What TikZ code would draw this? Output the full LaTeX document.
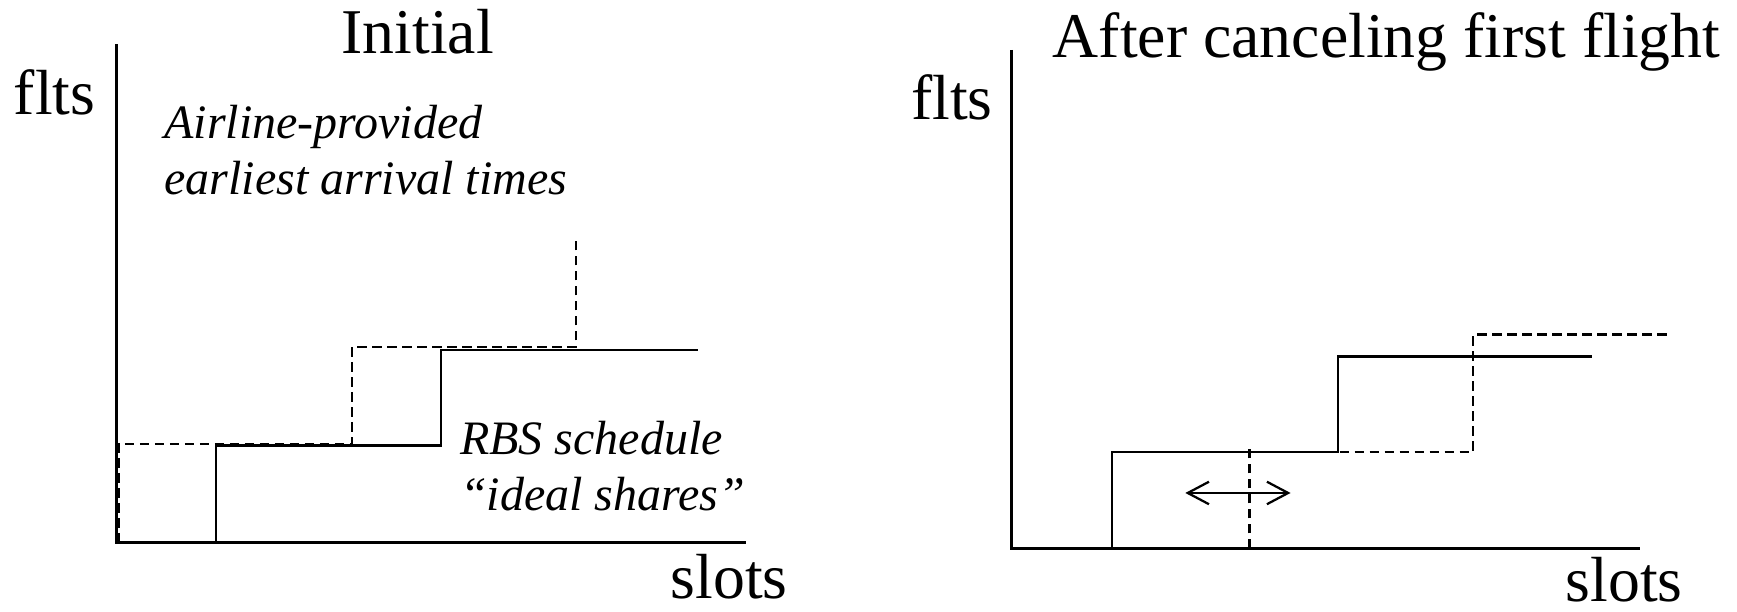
\documentclass[tikz,border=0pt]{standalone}
\usepackage{fontspec}
\setmainfont{Liberation Serif}
\usetikzlibrary{arrows.meta}
\begin{document}
\begin{tikzpicture}[x=0.4431pt,y=-0.4431pt,
  axis/.style={line width=1.1pt},
  rbs/.style={line width=1pt},
  earliest/.style={line width=0.9pt,dash pattern=on 3.8pt off 2.2pt},
  bigtxt/.style={inner sep=0pt,anchor=base west,font=\fontsize{25.5}{30}\selectfont},
  ittxt/.style={inner sep=0pt,anchor=base west,font=\fontsize{19.2}{23}\selectfont\itshape},
  shiftarrow/.style={line width=0.9pt,{Straight Barb[length=8.5pt,width=9pt]}-{Straight Barb[length=8.5pt,width=9pt]}}]
\useasboundingbox (0,0) rectangle (1568,552);
% ---------- left panel ----------
\coordinate (lo) at (105,490);
\coordinate (ltop) at (105,40);
\coordinate (lxend) at (673,490);
\draw[axis] (ltop) -- (lo) -- (lxend);
% earliest arrival times (dashed)
\coordinate (le0) at (107,490);
\coordinate (le1) at (107,401);
\coordinate (le2) at (318,401);
\coordinate (le3) at (318,313);
\coordinate (le4) at (520,313);
\coordinate (le5) at (520,213);
\draw[earliest] (le0) -- (le1) -- (le2) -- (le3) -- (le4) -- (le5);
% RBS schedule (solid)
\coordinate (lr0) at (195,490);
\coordinate (lr1) at (195,402);
\coordinate (lr2) at (398,402);
\coordinate (lr3) at (398,316);
\coordinate (lr4) at (630,316);
\draw[rbs] (lr0) -- (lr1) -- (lr2) -- (lr3) -- (lr4);
\node[bigtxt] (ltitle) at (308,48) {Initial};
\node[bigtxt] (lflts) at (12,103) {flts};
\node[bigtxt] (lslots) at (605,540) {slots};
\node[ittxt] (lair1) at (148,125) {Airline-provided};
\node[ittxt] (lair2) at (148,176) {earliest arrival times};
\node[ittxt] (lrbs1) at (415,410) {RBS schedule};
\node[ittxt] (lrbs2) at (415,461) {“ideal shares”};
% ---------- right panel ----------
\coordinate (ro) at (913,495);
\coordinate (rtop) at (913,45);
\coordinate (rxend) at (1480,495);
\draw[axis] (rtop) -- (ro) -- (rxend);
% earliest (dashed)
\coordinate (re0) at (1128,495);
\coordinate (re1) at (1128,403);
\draw[earliest] (re0) -- (re1);
\coordinate (re2) at (1128,408);
\coordinate (re3) at (1330,408);
\coordinate (re4) at (1330,302);
\coordinate (re5) at (1508,302);
\draw[earliest] (re2) -- (re3) -- (re4) -- (re5);
% RBS (solid)
\coordinate (rr0) at (1004,495);
\coordinate (rr1) at (1004,408);
\coordinate (rr2) at (1208,408);
\coordinate (rr3) at (1208,322);
\coordinate (rr4) at (1437,322);
\draw[rbs] (rr0) -- (rr1) -- (rr2) -- (rr3) -- (rr4);
% shift arrow
\coordinate (ra0) at (1070,445);
\coordinate (ra1) at (1165,445);
\draw[shiftarrow] (ra0) -- (ra1);
\node[bigtxt] (rtitle) at (950,52) {After canceling first flight};
\node[bigtxt] (rflts) at (822,108) {flts};
\node[bigtxt] (rslots) at (1413,543) {slots};
\end{tikzpicture}
\end{document}
